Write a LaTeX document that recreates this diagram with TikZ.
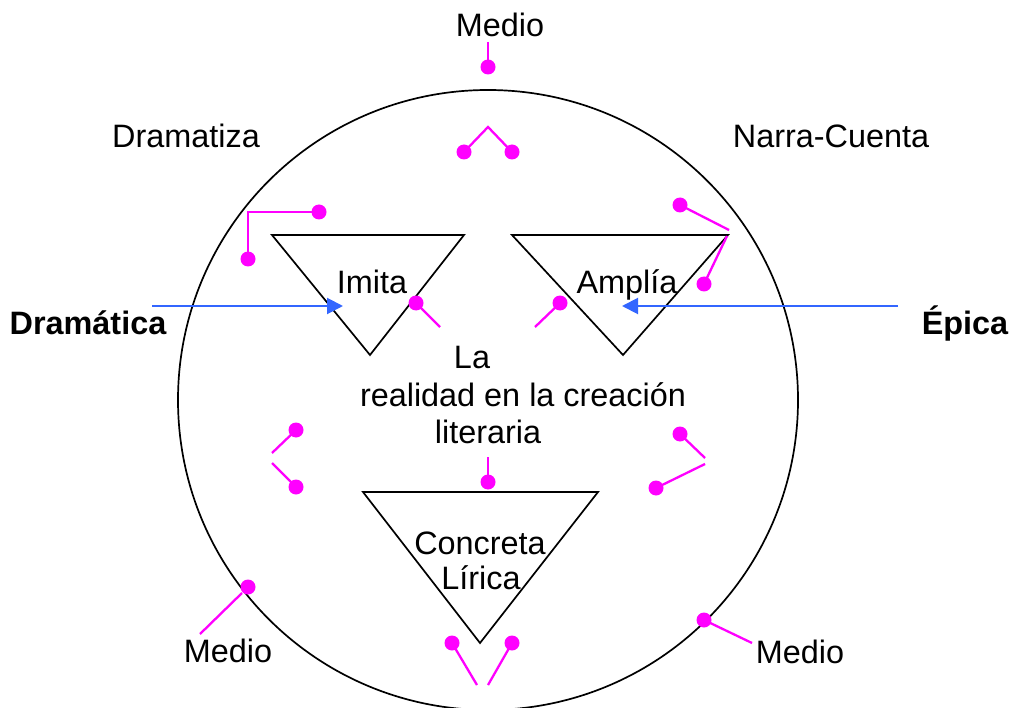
\documentclass[tikz,border=0pt]{standalone}
\usepackage{fontspec}
\setmainfont{Liberation Sans}
\usetikzlibrary{arrows.meta}
\definecolor{mag}{RGB}{255,0,255}
\definecolor{arrblue}{RGB}{51,102,255}
\tikzset{
  lbl/.style={anchor=base,inner sep=0pt,font=\fontsize{32.4}{38}\selectfont},
  blbl/.style={lbl,font=\fontsize{32.4}{38}\selectfont\bfseries},
  outline/.style={draw=black,line width=1.7pt,line join=miter},
  pinline/.style={draw=mag,line width=2.3pt},
  pindot/.style={fill=mag},
  arr/.style={draw=arrblue,line width=2pt,-{Triangle[length=16pt,width=16pt]}}
}
\newcommand{\pdot}[1]{\fill[pindot] (#1) circle (7.5pt);}
\begin{document}
\begin{tikzpicture}[x=1pt,y=-1pt]
\useasboundingbox (0,0) rectangle (1016,708);
% circle
\draw[outline] (488,400) circle (310pt);
% triangles
\draw[outline] (272,235) -- (464,235) -- (370,355) -- cycle;
\draw[outline] (512,235) -- (728,235) -- (623,355) -- cycle;
\draw[outline] (363,492) -- (598,492) -- (480,643) -- cycle;
% labels
\node[lbl] (mtop) at (500,37) {Medio};
\node[lbl] (dramatiza) at (186,148) {Dramatiza};
\node[lbl] (narra) at (831,148) {Narra-Cuenta};
\node[lbl] (imita) at (372,294) {Imita};
\node[lbl] (amplia) at (627,294) {Amplía};
\node[blbl] (dramatica) at (88,334) {Dramática};
\node[blbl] (epica) at (965,334) {Épica};
\node[lbl] (la) at (472,368) {La};
\node[lbl] (realidad) at (523,406) {realidad en la creación};
\node[lbl] (literaria) at (488,443) {literaria};
\node[lbl] (concreta) at (480,554) {Concreta};
\node[lbl] (lirica) at (481,589) {Lírica};
\node[lbl] (mbl) at (228,662) {Medio};
\node[lbl] (mbr) at (800,663) {Medio};
% blue arrows
\coordinate (aL0) at (152,306);
\coordinate (aL1) at (343,306);
\coordinate (aR0) at (898,306);
\coordinate (aR1) at (622,306);
\draw[arr] (aL0) -- (aL1);
\draw[arr] (aR0) -- (aR1);
% magenta pins
% top
\draw[pinline] (488,42) -- (488,67); \pdot{488,67}
\draw[pinline] (464,152) -- (488,127) -- (512,152); \pdot{464,152} \pdot{512,152}
% left upper elbow
\draw[pinline] (319,212) -- (248,212) -- (248,259); \pdot{319,212} \pdot{248,259}
% triangle inner
\draw[pinline] (416,303) -- (440,327); \pdot{416,303}
\draw[pinline] (560,303) -- (535,327); \pdot{560,303}
% right upper
\draw[pinline] (680,205) -- (729,230); \pdot{680,205}
\draw[pinline] (727,236) -- (704,284); \pdot{704,284}
% left middle
\draw[pinline] (296,430) -- (272,453); \pdot{296,430}
\draw[pinline] (296,487) -- (272,463); \pdot{296,487}
% right middle
\draw[pinline] (680,434) -- (705,458); \pdot{680,434}
\draw[pinline] (656,488) -- (705,464); \pdot{656,488}
% above bottom triangle
\draw[pinline] (488,457) -- (488,482); \pdot{488,482}
% bottom
\draw[pinline] (452,643) -- (477,685); \pdot{452,643}
\draw[pinline] (512,643) -- (488,685); \pdot{512,643}
% bottom left / right
\draw[pinline] (242,593) -- (200,634); \pdot{248,587}
\draw[pinline] (704,620) -- (752,643); \pdot{704,620}
\end{tikzpicture}
\end{document}
